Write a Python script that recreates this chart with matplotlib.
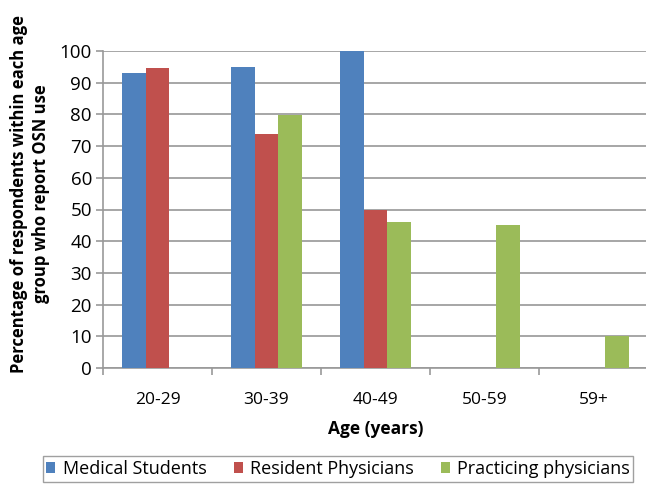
import numpy as np
import matplotlib.pyplot as plt

plt.rcParams['font.family'] = ['Open Sans', 'DejaVu Sans']

# share of each age group reporting OSN use (%)
grupos = ["20-29", "30-39", "40-49", "50-59", "59+"]
estudantes = [93.2, 95.0, 100, 0, 0]
residentes = [94.5, 73.7, 50, 0, 0]
praticantes = [0, 79.8, 46, 45, 10]

cores = ["#4F81BD", "#C0504D", "#9BBB59"]
nomes = ["Medical Students", "Resident Physicians", "Practicing physicians"]

fig = plt.figure(figsize=(6.46, 4.88), dpi=100)
ax = fig.add_axes([103/646, 1 - 368/488, 545/646, 317/488])

x = np.arange(len(grupos))
w = 0.22
for i, serie in enumerate([estudantes, residentes, praticantes]):
    ax.bar(x + (i - 1) * w, serie, w, color=cores[i], label=nomes[i], zorder=3)

ax.set_xlim(-0.5, 4.5)
ax.set_ylim(0, 100)
ax.set_yticks(range(0, 101, 10))
ax.set_xticks(x)
ax.set_xticklabels(grupos)
ax.set_xticks(np.arange(-0.5, 5, 1), minor=True)
ax.tick_params(axis='x', which='major', length=0, pad=17, labelsize=12.5)
ax.tick_params(axis='x', which='minor', length=5, color='#999999', width=1.2)
ax.tick_params(axis='y', length=5, color='#999999', width=1.2, labelsize=13.5, pad=3)
ax.grid(axis='y', color='#a6a6a6', linewidth=1.4, zorder=0)

for s in ['top', 'right']:
    ax.spines[s].set_visible(False)
for s in ['left', 'bottom']:
    ax.spines[s].set_color('#999999')
    ax.spines[s].set_linewidth(1.2)

ax.set_xlabel("Age (years)", fontsize=12.5, fontweight='bold', labelpad=9)
fig.text(30/646, 1 - 194/488, "Percentage of respondents within each age\ngroup who report OSN use",
         rotation=90, ha='center', va='center', fontsize=12, fontweight='bold',
         linespacing=1.3)

leg = fig.legend(loc='center', bbox_to_anchor=(338/646, 1 - 469/488), ncol=3,
                 fontsize=13, frameon=True, fancybox=False, handlelength=0.5,
                 handleheight=0.5, handletextpad=0.4, columnspacing=1.5,
                 borderpad=0.2)
leg.get_frame().set_edgecolor('#888888')
leg.get_frame().set_linewidth(1.0)

fig.savefig("out.png", dpi=100)
